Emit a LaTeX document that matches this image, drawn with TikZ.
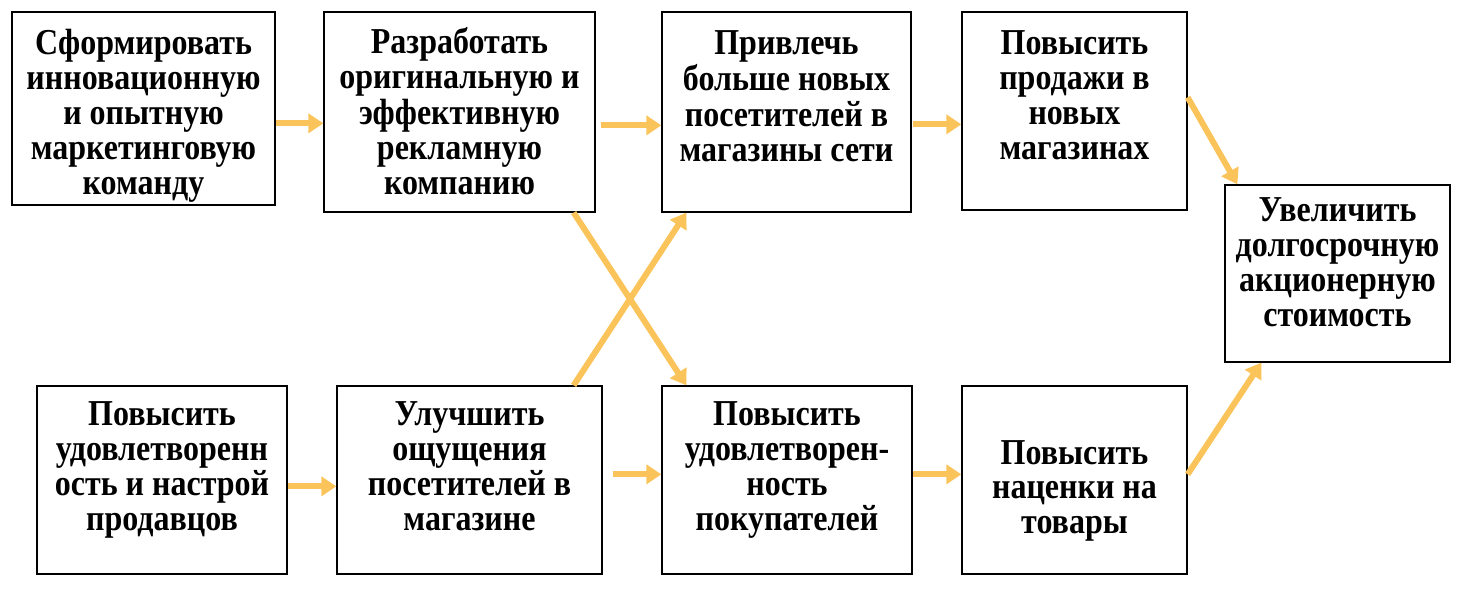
\documentclass[tikz,border=0pt]{standalone}
\usepackage{fontspec}
\usepackage{graphicx}
\setmainfont{Liberation Serif}
\usetikzlibrary{arrows.meta,calc}
\definecolor{arrowc}{RGB}{250,196,90}
\newcommand{\tallbox}[1]{\scalebox{1}[1.14]{\begin{tabular}{@{}c@{}}#1\end{tabular}}}
\tikzset{
  box/.style={draw=black,line width=1.3pt,fill=white,inner sep=0pt,minimum width=#1},
  txt/.style={inner sep=0pt,align=center,font=\bfseries\fontsize{32}{30.7}\selectfont},
  arr/.style={draw=arrowc,line width=6pt,-{Triangle[length=15pt,width=19pt]}},
}
\begin{document}
\begin{tikzpicture}[x=1pt,y=-1pt]
\useasboundingbox (0,0) rectangle (1460,609);
% boxes
\node[box=263pt,minimum height=193pt] (b1) at (143.5,108.5) {};
\node[box=271pt,minimum height=200pt] (b2) at (459.5,112) {};
\node[box=249pt,minimum height=200pt] (b3) at (786.5,112) {};
\node[box=225pt,minimum height=198pt] (b4) at (1074.5,111) {};
\node[box=225pt,minimum height=177pt] (b5) at (1337.5,273.5) {};
\node[box=250pt,minimum height=188pt] (b6) at (162,480) {};
\node[box=265pt,minimum height=188pt] (b7) at (469.5,480) {};
\node[box=250pt,minimum height=188pt] (b8) at (787,480) {};
\node[box=225pt,minimum height=188pt] (b9) at (1074.5,480) {};
% texts
\node[txt,yshift=-9pt] (t1) at (b1.center) {\tallbox{Сформировать\\инновационную\\и опытную\\маркетинговую\\команду}};
\node[txt,yshift=-4pt] (t2) at (b2.center) {\tallbox{Разработать\\оригинальную и\\эффективную\\рекламную\\компанию}};
\node[txt,yshift=11pt] (t3) at (b3.center) {\tallbox{Привлечь\\больше новых\\посетителей в\\магазины сети}};
\node[txt,yshift=11pt] (t4) at (b4.center) {\tallbox{Повысить\\продажи в\\новых\\магазинах}};
\node[txt,yshift=6pt] (t5) at (b5.center) {\tallbox{Увеличить\\долгосрочную\\акционерную\\стоимость}};
\node[txt,yshift=9pt] (t6) at (b6.center) {\tallbox{Повысить\\удовлетворенн\\ость и настрой\\продавцов}};
\node[txt,yshift=9pt] (t7) at (b7.center) {\tallbox{Улучшить\\ощущения\\посетителей в\\магазине}};
\node[txt,yshift=9pt] (t8) at (b8.center) {\tallbox{Повысить\\удовлетворен-\\ность\\покупателей}};
\node[txt,yshift=-12pt] (t9) at (b9.center) {\tallbox{Повысить\\наценки на\\товары}};
% connectors
\draw[arr] ($(b1.north east)+(0,112)$) -- ($(b2.north west)+(0,112)$);
\draw[arr] ($(b2.north east)+(5,114)$) -- ($(b3.north west)+(0,114)$);
\draw[arr] ($(b3.north east)+(1,113)$) -- ($(b4.north west)+(0,113)$);
\draw[arr] ($(b4.north east)+(0,86)$) -- ($(b5.north west)+(13,0)$);
\draw[arr] ($(b6.north east)+(0,101)$) -- ($(b7.north west)+(0,101)$);
\draw[arr] ($(b7.north east)+(10,89)$) -- ($(b8.north west)+(0,89)$);
\draw[arr] ($(b8.north east)+(0,89)$) -- ($(b9.north west)+(0,89)$);
\draw[arr] ($(b9.north east)+(0,89)$) -- ($(b5.south west)+(37,0)$);
\draw[arr] ($(b2.south east)+(-22,0)$) -- ($(b8.north west)+(25,0)$);
\draw[arr] ($(b7.north east)+(-29,0)$) -- ($(b3.south west)+(25,0)$);
\end{tikzpicture}
\end{document}
